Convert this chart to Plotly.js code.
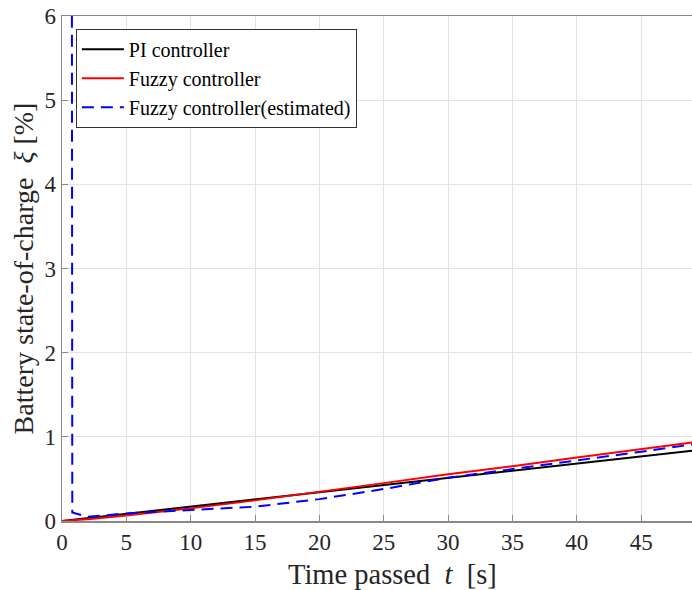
<!DOCTYPE html>
<html>
<head>
<meta charset="utf-8">
<script src="https://cdn.plot.ly/plotly-3.0.1.min.js"></script>
<style>html,body{margin:0;padding:0;background:#fff;}#chart{width:692px;height:590px;}</style>
</head>
<body>
<div id="chart"></div>
<script>
const piX = [0, 49];
const piY = [0, 0.835];

const fuzzyX = [0, 2, 5, 10, 15, 20, 25, 30, 35, 40, 45, 49];
const fuzzyY = [0, 0.022, 0.065, 0.15, 0.245, 0.345, 0.45, 0.555, 0.65, 0.755, 0.855, 0.935];

const estX = [0.7, 0.8, 2, 5, 10, 15, 20, 25, 30, 35, 40, 45, 49];
const estY = [20, 0.1, 0.05, 0.09, 0.13, 0.17, 0.26, 0.38, 0.514, 0.614, 0.716, 0.823, 0.91];

const serif = 'Liberation Serif, Times New Roman, serif';

const traces = [
  {x: piX, y: piY, mode: 'lines', name: 'PI controller', line: {color: '#000000', width: 2}},
  {x: fuzzyX, y: fuzzyY, mode: 'lines', name: 'Fuzzy controller', line: {color: '#ff0000', width: 2}},
  {x: estX, y: estY, mode: 'lines', name: 'Fuzzy controller(estimated)', line: {color: '#0000ff', width: 2, dash: '12px,7px'}}
];

const layout = {
  width: 692, height: 590,
  margin: {l: 62, r: 0, t: 16, b: 69},
  paper_bgcolor: '#ffffff', plot_bgcolor: '#ffffff',
  font: {family: serif, color: '#262626'},
  showlegend: true,
  legend: {
    x: 0.022, y: 0.975, xanchor: 'left', yanchor: 'top',
    bgcolor: '#ffffff', bordercolor: '#333333', borderwidth: 1,
    font: {family: serif, size: 20, color: '#000000'},
    itemwidth: 42,
    tracegroupgap: 0
  },
  xaxis: {
    range: [0, 48.95], tickvals: [0,5,10,15,20,25,30,35,40,45],
    showgrid: true, gridcolor: '#e3e3e3', gridwidth: 1,
    zeroline: false, showline: true, linecolor: '#8a8a8a', linewidth: 1.5, mirror: true,
    ticks: 'inside', ticklen: 6, tickcolor: '#8a8a8a',
    tickfont: {family: serif, size: 23, color: '#262626'}
  },
  yaxis: {
    range: [0, 6], tickvals: [0,1,2,3,4,5,6],
    showgrid: true, gridcolor: '#e3e3e3', gridwidth: 1,
    zeroline: false, showline: true, linecolor: '#8a8a8a', linewidth: 1.5,
    ticks: 'inside', ticklen: 6, tickcolor: '#8a8a8a',
    tickfont: {family: serif, size: 23, color: '#262626'},
    title: {text: 'Battery state-of-charge  <i>ξ</i> [%]', font: {family: serif, size: 28, color: '#262626'}, standoff: 2}
  },
  annotations: [{
    text: 'Time passed  <i>t</i>  [s]',
    xref: 'paper', yref: 'paper',
    x: (392 - 62) / 630, y: -0.105,
    xanchor: 'center', yanchor: 'middle', showarrow: false,
    font: {family: serif, size: 28.5, color: '#262626'}
  }]
};

Plotly.newPlot('chart', traces, layout, {displayModeBar: false, staticPlot: true});
</script>
</body>
</html>
